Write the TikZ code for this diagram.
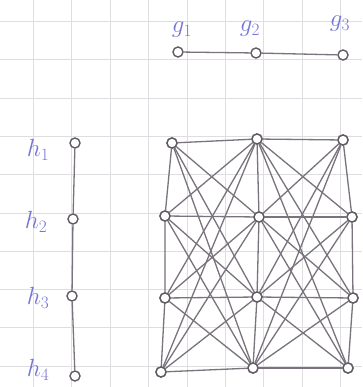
\documentclass[tikz,border=0pt]{standalone}
\definecolor{ink}{RGB}{118,118,215}
\definecolor{pencil}{RGB}{122,114,124}
\definecolor{gridc}{RGB}{222,222,226}
\begin{document}
\begin{tikzpicture}[x=1pt,y=-1pt,
  vtx/.style={circle,draw=pencil!80!black,fill=white,line width=1.4pt,inner sep=0pt,minimum size=10pt},
  edge/.style={draw=pencil,line width=1.3pt},
  lbl/.style={text=ink,font=\fontsize{26}{28}\selectfont}]
\useasboundingbox (0,0) rectangle (362,387);
\fill[white] (0,0) rectangle (362,387);
% grid paper
\foreach \k in {0,...,8} \draw[gridc,line width=0.9pt] ({33.5+38.4*\k},0) -- ({33.5+38.4*\k},387);
\foreach \k in {0,...,9} \draw[gridc,line width=0.9pt] (0,{21.5+38.3*\k}) -- (362,{21.5+38.3*\k});
% graph G
\node[lbl] (lg1) at (182,30) {$g_1$};
\node[lbl] (lg2) at (250,29) {$g_2$};
\node[lbl] (lg3) at (340,24) {$g_3$};
\node[vtx] (g1) at (178,52) {};
\node[vtx] (g2) at (256,53) {};
\node[vtx] (g3) at (343,55) {};
\draw[edge] (g1) -- (g2) -- (g3);
% graph H
\node[vtx] (h1) at (75,143) {};
\node[vtx] (h2) at (73,219) {};
\node[vtx] (h3) at (72,296) {};
\node[vtx] (h4) at (75,376) {};
\draw[edge] (h1) -- (h2) -- (h3) -- (h4);
\node[lbl] (lh1) at (38,150) {$h_1$};
\node[lbl] (lh2) at (36,222) {$h_2$};
\node[lbl] (lh3) at (38,298) {$h_3$};
\node[lbl] (lh4) at (38,370) {$h_4$};
% product
\node[vtx] (a1) at (172,143) {};
\node[vtx] (a2) at (165,216) {};
\node[vtx] (a3) at (165,298) {};
\node[vtx] (a4) at (161,372) {};
\node[vtx] (b1) at (257,139) {};
\node[vtx] (b2) at (259,217) {};
\node[vtx] (b3) at (257,297) {};
\node[vtx] (b4) at (253,368) {};
\node[vtx] (c1) at (343,140) {};
\node[vtx] (c2) at (352,217) {};
\node[vtx] (c3) at (353,298) {};
\node[vtx] (c4) at (348,368) {};
\foreach \c in {a,b,c} \draw[edge] (\c1) -- (\c2) -- (\c3) -- (\c4);
\foreach \i in {1,...,4} \foreach \j in {1,...,4} {
  \draw[edge] (a\i) -- (b\j);
  \draw[edge] (b\i) -- (c\j);
}
\foreach \n in {a1,a2,a3,a4,b1,b2,b3,b4,c1,c2,c3,c4} \node[vtx] at (\n) {};
\end{tikzpicture}
\end{document}
